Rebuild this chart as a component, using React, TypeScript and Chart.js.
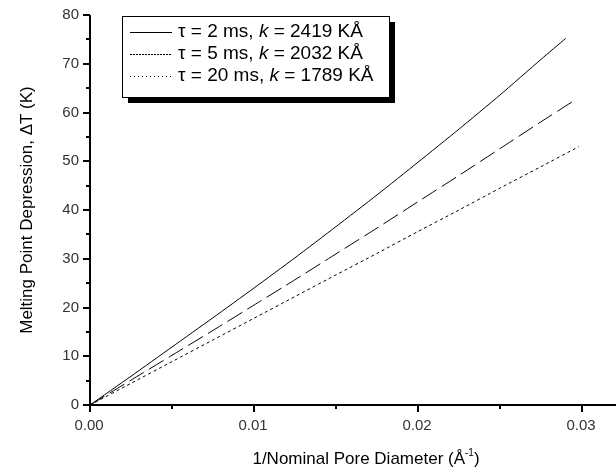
import React, { useEffect, useRef } from 'react';
import { Chart, registerables } from 'chart.js';

Chart.register(...registerables);

const xTicks = [0, 0.01, 0.02, 0.03];
const xTickLabels = ['0.00', '0.01', '0.02', '0.03'];
const yTicks = [0, 10, 20, 30, 40, 50, 60, 70, 80];
const yTickLabels = ['0', '10', '20', '30', '40', '50', '60', '70', '80'];
const xMinor = [0.005, 0.015, 0.025];
const yMinor = [5, 15, 25, 35, 45, 55, 65, 75];

const solidX = [0, 0.0025, 0.005, 0.0075, 0.01, 0.0125, 0.015, 0.0175, 0.02, 0.0225, 0.025, 0.0275, 0.029];
const solidY = [0, 5.9, 11.9, 17.9, 24.0, 30.2, 36.6, 43.1, 49.8, 56.6, 63.6, 70.9, 75.2];
const dashX = [0, 0.0025, 0.005, 0.0075, 0.01, 0.0125, 0.015, 0.0175, 0.02, 0.0225, 0.025, 0.0275, 0.0294];
const dashY = [0, 5.1, 10.2, 15.3, 20.5, 25.7, 31.0, 36.3, 41.7, 47.1, 52.6, 58.1, 62.2];
const dotX = [0, 0.0025, 0.005, 0.0075, 0.01, 0.0125, 0.015, 0.0175, 0.02, 0.0225, 0.025, 0.0275, 0.0298];
const dotY = [0, 4.45, 8.9, 13.35, 17.8, 22.25, 26.7, 31.1, 35.6, 40.0, 44.5, 48.9, 53.0];

const legendRows = [
  { pre: '\u03c4 = 2 ms, ', k: 'k', post: ' = 2419 K\u00c5', dash: [] as number[] },
  { pre: '\u03c4 = 5 ms, ', k: 'k', post: ' = 2032 K\u00c5', dash: [2, 1] },
  { pre: '\u03c4 = 20 ms, ', k: 'k', post: ' = 1789 K\u00c5', dash: [1, 3] },
];

const FONT = '"Liberation Sans", Arial, sans-serif';

const axesPlugin = {
  id: 'customAxes',
  afterDraw(chart: any) {
    const ctx = chart.ctx as CanvasRenderingContext2D;
    const xs = chart.scales.x;
    const ys = chart.scales.y;
    const a = chart.chartArea;
    ctx.save();
    ctx.strokeStyle = '#000';
    ctx.fillStyle = '#000';
    ctx.lineWidth = 2;
    ctx.beginPath();
    ctx.moveTo(a.left, a.top);
    ctx.lineTo(a.left, a.bottom);
    ctx.lineTo(a.right, a.bottom);
    ctx.stroke();
    ctx.beginPath();
    xTicks.forEach((v) => {
      const px = Math.round(xs.getPixelForValue(v));
      ctx.moveTo(px, a.bottom);
      ctx.lineTo(px, a.bottom + 7);
    });
    xMinor.forEach((v) => {
      const px = Math.round(xs.getPixelForValue(v));
      ctx.moveTo(px, a.bottom);
      ctx.lineTo(px, a.bottom + 4);
    });
    yTicks.forEach((v) => {
      const py = Math.round(ys.getPixelForValue(v));
      ctx.moveTo(a.left, py);
      ctx.lineTo(a.left - 7, py);
    });
    yMinor.forEach((v) => {
      const py = Math.round(ys.getPixelForValue(v));
      ctx.moveTo(a.left, py);
      ctx.lineTo(a.left - 4, py);
    });
    ctx.stroke();

    ctx.fillStyle = '#333';
    ctx.font = `15px ${FONT}`;
    ctx.textAlign = 'center';
    ctx.textBaseline = 'middle';
    xTicks.forEach((v, i) => {
      ctx.fillText(xTickLabels[i], xs.getPixelForValue(v) - 1, a.bottom + 21);
    });
    ctx.textAlign = 'right';
    yTicks.forEach((v, i) => {
      ctx.fillText(yTickLabels[i], a.left - 11, ys.getPixelForValue(v));
    });

    ctx.fillStyle = '#000';
    ctx.font = `17px ${FONT}`;
    ctx.save();
    ctx.translate(27, (a.top + a.bottom) / 2);
    ctx.rotate(-Math.PI / 2);
    ctx.textAlign = 'center';
    ctx.textBaseline = 'middle';
    ctx.fillText('Melting Point Depression, \u0394T (K)', 0, 0);
    ctx.restore();

    const t1 = '1/Nominal Pore Diameter (\u00c5';
    const sup = '-1';
    const t2 = ')';
    ctx.font = `17px ${FONT}`;
    const w1 = ctx.measureText(t1).width;
    const w3 = ctx.measureText(t2).width;
    ctx.font = `10px ${FONT}`;
    const w2 = ctx.measureText(sup).width;
    const total = w1 + w2 + w3;
    let sx = 366 - total / 2;
    const ty = 459;
    ctx.textAlign = 'left';
    ctx.textBaseline = 'middle';
    ctx.font = `17px ${FONT}`;
    ctx.fillText(t1, sx, ty);
    sx += w1;
    ctx.font = `10px ${FONT}`;
    ctx.fillText(sup, sx, ty - 6);
    sx += w2;
    ctx.font = `17px ${FONT}`;
    ctx.fillText(t2, sx, ty);

    const bx = 122, by = 16, bw = 267, bh = 81;
    ctx.fillStyle = '#000';
    ctx.fillRect(bx + 6, by + 6, bw, bh);
    ctx.fillStyle = '#fff';
    ctx.fillRect(bx, by, bw, bh);
    ctx.lineWidth = 1;
    ctx.strokeStyle = '#000';
    ctx.strokeRect(bx + 0.5, by + 0.5, bw, bh);
    legendRows.forEach((r, i) => {
      const cy = 32 + i * 22;
      ctx.beginPath();
      ctx.setLineDash(r.dash);
      ctx.moveTo(130, cy + 0.5);
      ctx.lineTo(172, cy + 0.5);
      ctx.stroke();
      ctx.setLineDash([]);
      let tx = 178;
      ctx.fillStyle = '#000';
      ctx.textBaseline = 'middle';
      ctx.font = `19px ${FONT}`;
      ctx.fillText(r.pre, tx, cy);
      tx += ctx.measureText(r.pre).width;
      ctx.font = `italic 19px ${FONT}`;
      ctx.fillText(r.k, tx, cy);
      tx += ctx.measureText(r.k).width;
      ctx.font = `19px ${FONT}`;
      ctx.fillText(r.post, tx, cy);
    });
    ctx.restore();
  },
};

export default function App() {
  const ref = useRef<HTMLCanvasElement>(null);
  useEffect(() => {
    if (!ref.current) return;
    const chart = new Chart(ref.current, {
      type: 'line',
      data: {
        datasets: [
          {
            label: '\u03c4 = 2 ms, k = 2419 K\u00c5',
            data: solidX.map((x, i) => ({ x, y: solidY[i] })),
            borderColor: '#000',
            borderWidth: 1,
            pointRadius: 0,
            tension: 0.2,
          },
          {
            label: '\u03c4 = 5 ms, k = 2032 K\u00c5',
            data: dashX.map((x, i) => ({ x, y: dashY[i] })),
            borderColor: '#000',
            borderWidth: 1,
            borderDash: [17, 6],
            pointRadius: 0,
            tension: 0.2,
          },
          {
            label: '\u03c4 = 20 ms, k = 1789 K\u00c5',
            data: dotX.map((x, i) => ({ x, y: dotY[i] })),
            borderColor: '#000',
            borderWidth: 1,
            borderDash: [3, 3],
            pointRadius: 0,
            tension: 0.2,
          },
        ],
      },
      options: {
        responsive: false,
        animation: false,
        layout: { padding: { left: 90, top: 15, right: 0, bottom: 67 } },
        plugins: { legend: { display: false }, tooltip: { enabled: false } },
        scales: {
          x: { type: 'linear', min: 0, max: 0.03207, display: false },
          y: { type: 'linear', min: 0, max: 80, display: false },
        },
      },
      plugins: [axesPlugin],
    });
    return () => chart.destroy();
  }, []);
  return (
    <div style={{ position: 'absolute', left: 0, top: 0, width: 616, height: 472, background: '#fff' }}>
      <canvas ref={ref} width={616} height={472} style={{ display: 'block' }} />
    </div>
  );
}
